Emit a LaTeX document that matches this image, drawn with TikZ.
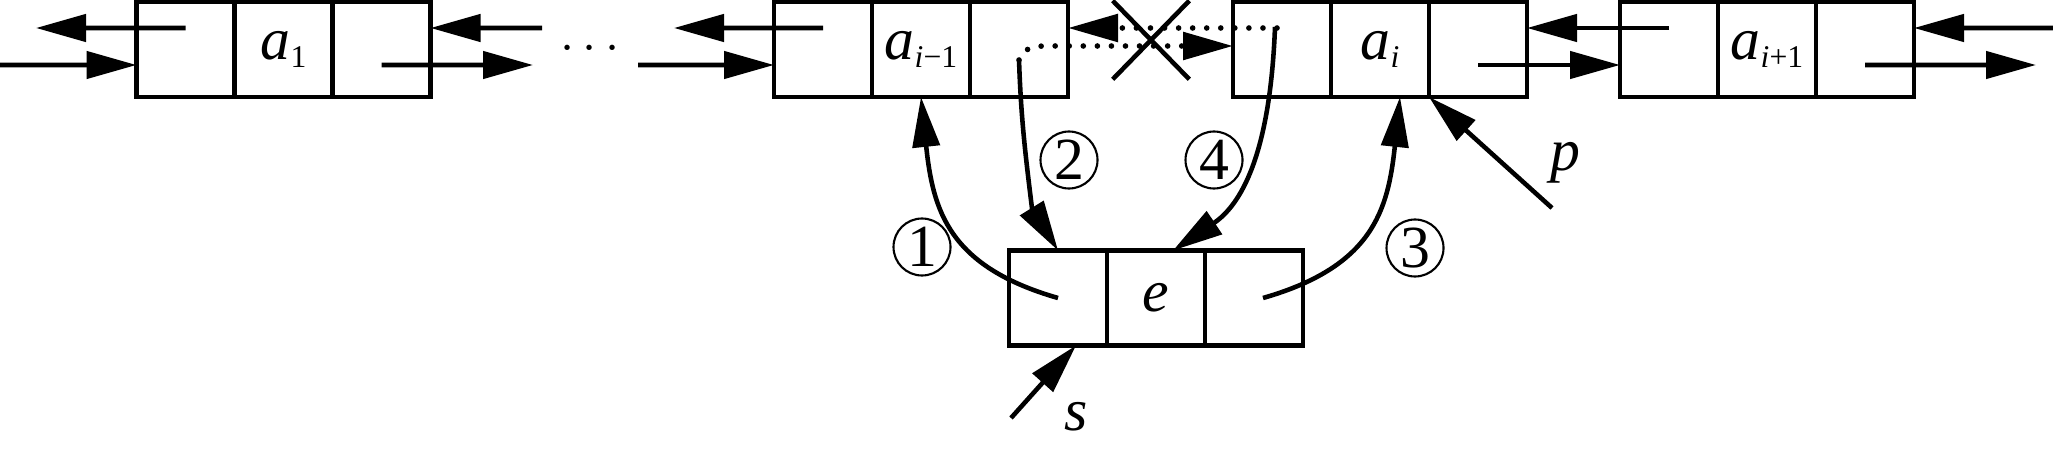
\documentclass[tikz,border=0pt]{standalone}
\usepackage{fontspec}
\setmainfont{Liberation Serif}[ItalicFont={Liberation Serif Italic}]
\usepackage{tikz}
\usetikzlibrary{positioning, arrows.meta, shapes.misc}
\newcommand{\idx}[1]{\raisebox{-0.8mm}{\fontsize{9}{10}\selectfont #1}}

\tikzset{
    cell/.style={draw, line width=1.3pt, minimum width=0.98cm, minimum height=0.95cm, inner sep=0pt, outer sep=0pt},
    arr/.style={-{Triangle[length=5mm, width=2.7mm]}, line width=1.3pt},
    dotarr/.style={arr, line cap=round, dash pattern=on 0pt off 4pt, line width=1.6pt},
    num/.style={circle, draw, line width=0.6pt, minimum size=0.57cm, inner sep=0pt}
}

\begin{document}
\begin{tikzpicture}[font=\fontsize{17}{19}\selectfont]
                    \useasboundingbox (0, 0) rectangle (20.53, 4.5);

                    \foreach \n/\x/\t in {a1/2.835/{\textit{a}\idx{1}}, am/9.21/{\textit{a}\idx{\textit{i}−1}}, ai/13.80/{\textit{a}\idx{\textit{i}}}, ap/17.67/{\textit{a}\idx{\textit{i}+1}}}
                    {
                        \node [cell] (\n_d) at (\x, 4.005) {\t};
                        \node [cell, left=0pt of \n_d] (\n_l) {};
                        \node [cell, right=0pt of \n_d] (\n_r) {};
                    }
                    \node [cell] (e_d) at (11.56, 1.52) {\textit{e}};
                    \node [cell, left=0pt of e_d] (e_l) {};
                    \node [cell, right=0pt of e_d] (e_r) {};

                    \node (dots) at (5.90, 4.01) {\fontsize{15}{16}\selectfont$\cdots$};
                    \coordinate (in1) at (0, 3.85);
                    \coordinate (out1) at (0.36, 4.22);
                    \coordinate (r1o) at (5.33, 3.85);
                    \coordinate (r1i) at (5.42, 4.22);
                    \coordinate (in2) at (6.38, 3.85);
                    \coordinate (out2) at (6.74, 4.22);
                    \coordinate (r4o) at (20.36, 3.85);
                    \coordinate (r4i) at (20.53, 4.22);

                    \draw [arr] (in1) -- ([yshift=-1.55mm]a1_l.west);
                    \draw [arr] ([yshift=2.15mm]a1_l.center) -- (out1);
                    \draw [arr] ([yshift=-1.55mm]a1_r.center) -- (r1o);
                    \draw [arr] (r1i) -- ([yshift=2.15mm]a1_r.east);
                    \draw [arr] (in2) -- ([yshift=-1.55mm]am_l.west);
                    \draw [arr] ([yshift=2.15mm]am_l.center) -- (out2);
                    \draw [arr] ([yshift=-1.55mm]ai_r.center) -- ([yshift=-1.55mm]ap_l.west);
                    \draw [arr] ([yshift=2.15mm]ap_l.center) -- ([yshift=2.15mm]ai_r.east);
                    \draw [arr] ([yshift=-1.55mm]ap_r.center) -- (r4o);
                    \draw [arr] (r4i) -- ([yshift=2.15mm]ap_r.east);

                    % old links, crossed out
                    \draw [dotarr] ([shift={(-0.05,0.215)}]ai_l.center) -- ([yshift=2.15mm]am_r.east);
                    \draw [dotarr] ([yshift=-1.05mm]am_r.center) to[out=75, in=180] ([shift={(0.4,0.035)}]am_r.center)
                        -- ([yshift=0.35mm]ai_l.west);
                    \node [draw, cross out, line width=1.3pt, minimum width=0.72cm, minimum height=0.74cm, inner sep=0pt] (x) at (11.51, 4.10) {};

                    % new links
                    \draw [arr] (e_l.center) to[out=164, in=-84, looseness=1.2] (am_d.south);
                    \draw [arr] ([yshift=-1.05mm]am_r.center) to[out=-88, in=97] ([shift={(-0.26,0.42)}]e_l.north) -- (e_l.north);
                    \draw [arr] ([xshift=0.9mm]e_r.center) to[out=16, in=-96, looseness=1.2] ([xshift=2mm]ai_d.south);
                    \draw [arr] ([shift={(-0.07,0.225)}]ai_l.center) .. controls +(-0.05,-1.3) and +(0.67,0.45) .. ([xshift=1.7mm]e_d.north);

                    \node [num] (c1) at (9.22, 2.03) {1};
                    \node [num] (c2) at (10.69, 2.90) {2};
                    \node [num] (c4) at (12.14, 2.90) {4};
                    \node [num] (c3) at (14.15, 2.02) {3};

                    \coordinate (p0) at (15.52, 2.42);
                    \draw [arr] (p0) -- (ai_d.south east);
                    \node (p) at (15.65, 2.87) {\textit{p}};
                    \coordinate (s0) at (10.11, 0.32);
                    \draw [arr] (s0) -- ([xshift=1.8mm]e_l.south);
                    \node (s) at (10.76, 0.33) {\textit{s}};
                \end{tikzpicture}
\end{document}
